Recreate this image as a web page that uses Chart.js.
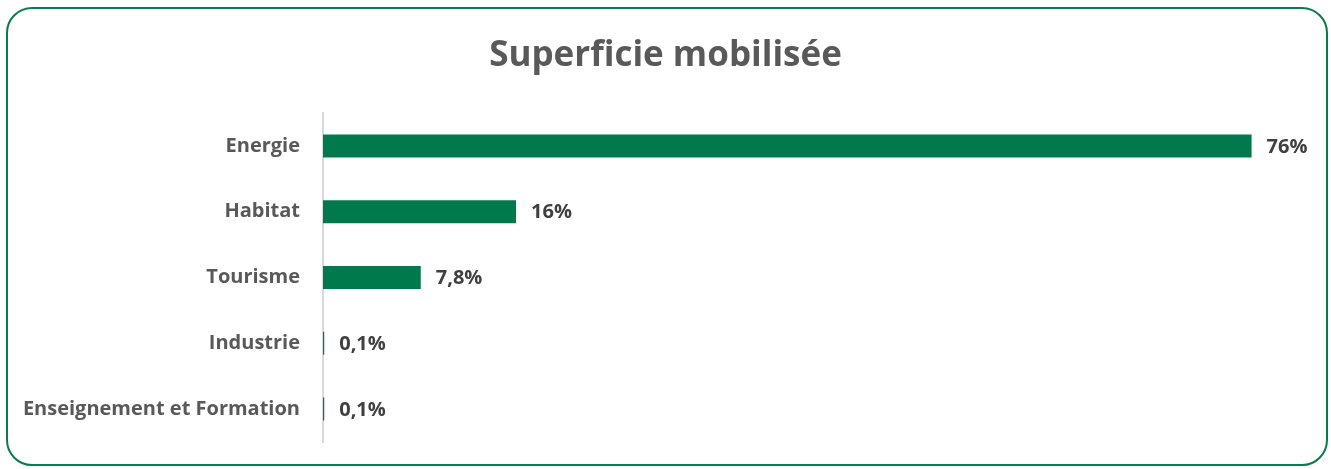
<!DOCTYPE html>
<html>
<head>
<meta charset="utf-8">
<script src="https://cdn.jsdelivr.net/npm/chart.js@4.4.1/dist/chart.umd.min.js"></script>
<style>
  html, body { margin: 0; padding: 0; background: #ffffff; }
  #wrap { position: relative; width: 1331px; height: 469px; }
  #frame { position: absolute; left: 6px; top: 7px; width: 1318px; height: 455px;
           border: 2px solid #0b7a4e; border-radius: 26px; pointer-events: none; }
  canvas { position: absolute; left: 0; top: 0; }
</style>
</head>
<body>
<div id="wrap">
  <canvas id="c" width="1331" height="469"></canvas>
  <div id="frame"></div>
</div>
<script>
const title = "Superficie mobilisée";
const categories = ["Energie", "Habitat", "Tourisme", "Industrie", "Enseignement et Formation"];
const values = [76, 15.8, 8.0, 0.1, 0.1];
const valueLabels = ["76%", "16%", "7,8%", "0,1%", "0,1%"];

const FONT = "'Open Sans', Lato, sans-serif";

const dataLabelPlugin = {
  id: 'dataLabels',
  afterDatasetsDraw(chart) {
    const ctx = chart.ctx;
    const meta = chart.getDatasetMeta(0);
    ctx.save();
    ctx.font = "bold 20px " + FONT;
    ctx.fillStyle = "#404040";
    ctx.textAlign = "left";
    ctx.textBaseline = "middle";
    meta.data.forEach((bar, i) => {
      ctx.fillText(valueLabels[i], bar.x + 15, bar.y + 1);
    });
    ctx.restore();
  }
};

new Chart(document.getElementById('c'), {
  type: 'bar',
  data: {
    labels: categories,
    datasets: [{
      data: values,
      backgroundColor: '#007a4d',
      borderWidth: 0,
      barPercentage: 0.7,
      categoryPercentage: 0.5
    }]
  },
  options: {
    indexAxis: 'y',
    responsive: false,
    animation: false,
    devicePixelRatio: 1,
    layout: { padding: { left: 0, right: 0, top: 0, bottom: 25 } },
    plugins: {
      legend: { display: false },
      tooltip: { enabled: false },
      title: {
        display: true,
        text: title,
        color: '#595959',
        font: { family: FONT, size: 35, weight: 'bold', lineHeight: 1.2 },
        padding: { top: 35, bottom: 36 }
      }
    },
    scales: {
      x: {
        display: false,
        min: 0,
        max: 82.5
      },
      y: {
        afterFit(scale) { scale.width = 323; },
        grid: { display: false },
        border: { display: true, color: '#d9d9d9', width: 2 },
        ticks: {
          color: '#595959',
          padding: 15,
          font: { family: FONT, size: 20, weight: 'bold' }
        }
      }
    }
  },
  plugins: [dataLabelPlugin]
});
</script>
</body>
</html>
